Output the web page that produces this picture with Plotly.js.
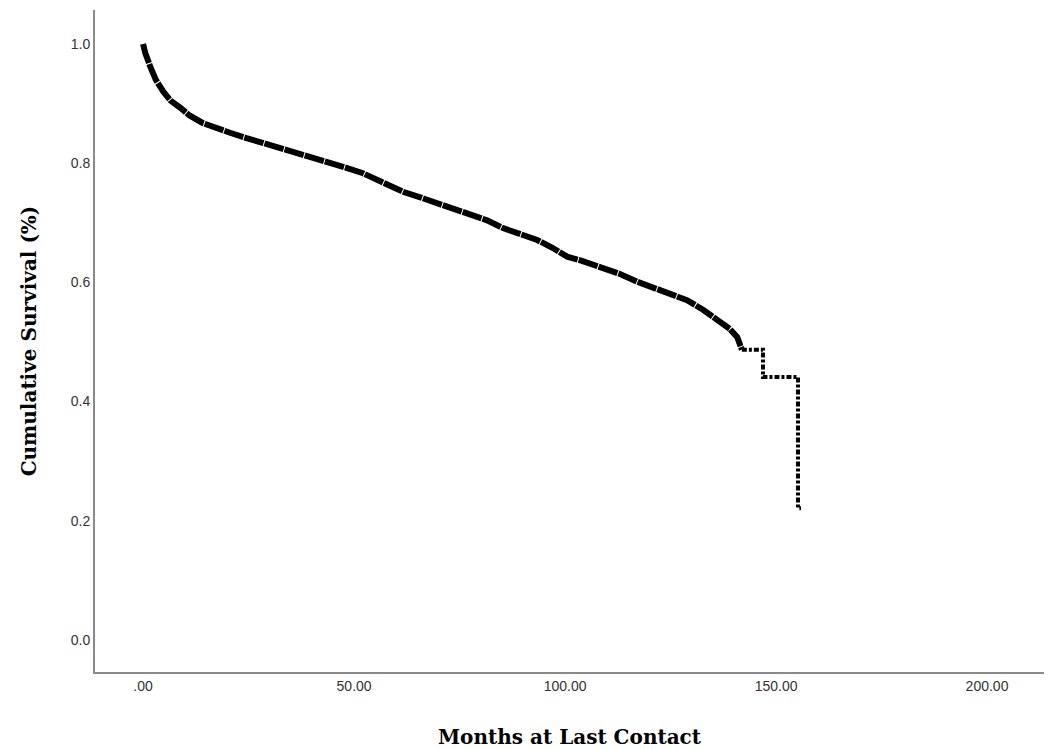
<!DOCTYPE html>
<html>
<head>
<meta charset="utf-8">
<script src="https://cdn.plot.ly/plotly-3.0.1.min.js"></script>
<style>html,body{margin:0;padding:0;background:#fff}#chart{width:1054px;height:749px}</style>
</head>
<body>
<div id="chart"></div>
<script>
// Kaplan-Meier estimate
const months = [0, 0.5, 1.7, 3.0, 4.8, 6.5, 8.8, 11.0, 14.2, 17.0, 20.6, 24.5, 28.4, 32.5, 36.5, 40.5, 44.3, 48.2, 52.1, 55.7, 61.6, 65.5, 69.7, 73.5, 77.5, 81.5, 85.3, 89.5, 93.4, 97.0, 100.5, 104.0, 109.0, 113.0, 117.1, 122.5, 126.0, 128.9, 132.7, 136.7, 139.0, 140.8, 141.9];
const survival = [1.000, 0.985, 0.962, 0.940, 0.920, 0.905, 0.893, 0.880, 0.867, 0.859, 0.851, 0.842, 0.834, 0.826, 0.817, 0.809, 0.800, 0.792, 0.783, 0.772, 0.752, 0.743, 0.733, 0.725, 0.716, 0.704, 0.691, 0.682, 0.671, 0.658, 0.643, 0.636, 0.624, 0.614, 0.601, 0.587, 0.579, 0.570, 0.554, 0.534, 0.522, 0.508, 0.487];
const tailMonths = [141.9, 146.9, 155.2, 155.9];
const tailSurvival = [0.487, 0.441, 0.221, 0.221];

const xTicks = [0, 50, 100, 150, 200];
const xTickLabels = ['.00', '50.00', '100.00', '150.00', '200.00'];
const yTicks = [0, 0.2, 0.4, 0.6, 0.8, 1.0];
const yTickLabels = ['0.0', '0.2', '0.4', '0.6', '0.8', '1.0'];

const traces = [
  {x: months, y: survival, type: 'scatter', mode: 'lines',
   line: {color: '#000', width: 6, dash: '20px,1px'}, hoverinfo: 'x+y', showlegend: false},
  {x: tailMonths, y: tailSurvival, type: 'scatter', mode: 'lines',
   line: {color: '#000', width: 4, shape: 'hv', dash: '5px,2px,3px,2px'}, hoverinfo: 'x+y', showlegend: false}
];

const layout = {
  width: 1054, height: 749,
  margin: {l: 95, r: 10, t: 10, b: 77},
  paper_bgcolor: '#fff', plot_bgcolor: '#fff',
  showlegend: false,
  xaxis: {
    range: [-11.4, 213.5], tickvals: xTicks, ticktext: xTickLabels,
    showgrid: false, zeroline: false, showline: true, linecolor: '#8a8a8a', linewidth: 2,
    ticks: '', ticklen: 0,
    tickfont: {family: 'Liberation Sans, Arial, sans-serif', size: 14, color: '#333'},
    title: {text: 'Months at Last Contact', standoff: 37,
      font: {family: 'DejaVu Serif, serif', size: 20, color: '#000', weight: 'bold'}}
  },
  yaxis: {
    range: [-0.054, 1.057], tickvals: yTicks, ticktext: yTickLabels,
    showgrid: false, zeroline: false, showline: true, linecolor: '#8a8a8a', linewidth: 2,
    ticks: '', ticklen: 0,
    tickfont: {family: 'Liberation Sans, Arial, sans-serif', size: 14, color: '#333'},
    title: {text: 'Cumulative Survival (%)', standoff: 29,
      font: {family: 'DejaVu Serif, serif', size: 20, color: '#000', weight: 'bold'}}
  }
};

Plotly.newPlot('chart', traces, layout, {displayModeBar: false, staticPlot: true});
</script>
</body>
</html>
